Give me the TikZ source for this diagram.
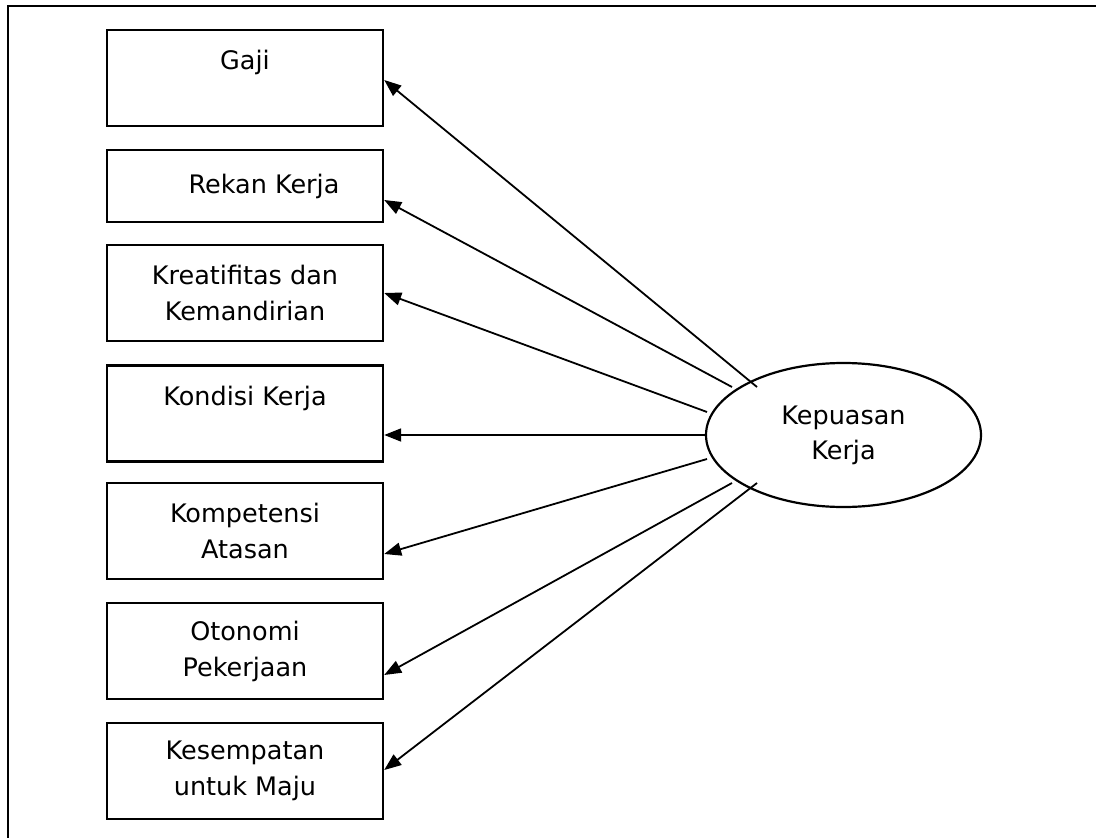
\documentclass[tikz,border=0pt]{standalone}
\usepackage{fontspec}
\setmainfont{DejaVu Sans}
\usetikzlibrary{arrows.meta,shapes.geometric}
\begin{document}
\begin{tikzpicture}[x=1pt,y=-1pt,
  factor/.style={draw, line width=2.4pt, minimum width=276pt, minimum height=96pt,
    inner sep=0pt, align=center, font=\fontsize{25.5}{36}\selectfont},
  latent/.style={draw, ellipse, line width=2.2pt, minimum width=275pt, minimum height=144pt,
    inner sep=0pt, align=center, font=\fontsize{25.5}{35}\selectfont},
  link/.style={line width=1.8pt, -{Triangle[length=17pt,width=13pt]}}]
  \useasboundingbox (0,0) rectangle (1096,838);
  % open frame: top and left edges only
  \draw[line width=2.4pt] (1096,6) -- (8,6) -- (8,838);

  % indicator boxes
  \node[factor] (gaji) at (245,78) {Gaji\\ \mbox{}};
  \node[factor, minimum height=72pt] (rekan) at (245,186) {\hspace*{38pt}Rekan Kerja};
  \node[factor] (kreatif) at (245,293) {Kreatifitas dan\\Kemandirian};
  \node[factor] (kondisi) at (245,413.5) {Kondisi Kerja\\ \mbox{}};
  \node[factor] (kompet) at (245,531) {Kompetensi\\Atasan};
  \node[factor] (otonomi) at (245,651) {Otonomi\\Pekerjaan};
  \node[factor] (kesempatan) at (245,771) {Kesempatan\\untuk Maju};

  % latent construct
  \node[latent] (kepuasan) at (843.5,435) {Kepuasan\\Kerja};

  % start points of the paths on the ellipse rim
  \coordinate (s1) at (757,387);
  \coordinate (s2) at (732,387);
  \coordinate (s3) at (707,412);
  \coordinate (s4) at (707,435);
  \coordinate (s5) at (707,459);
  \coordinate (s6) at (732,483);
  \coordinate (s7) at (757,483);

  \draw[link] (s1) -- ([yshift=-2pt]gaji.east);
  \draw[link] (s2) -- ([yshift=-14pt]rekan.east);
  \draw[link] (s3) -- (kreatif.east);
  \draw[link] (s4) -- ([yshift=-21.5pt]kondisi.east);
  \draw[link] (s5) -- ([yshift=-23pt]kompet.east);
  \draw[link] (s6) -- ([yshift=-24pt]otonomi.east);
  \draw[link] (s7) -- ([yshift=1pt]kesempatan.east);
\end{tikzpicture}
\end{document}
